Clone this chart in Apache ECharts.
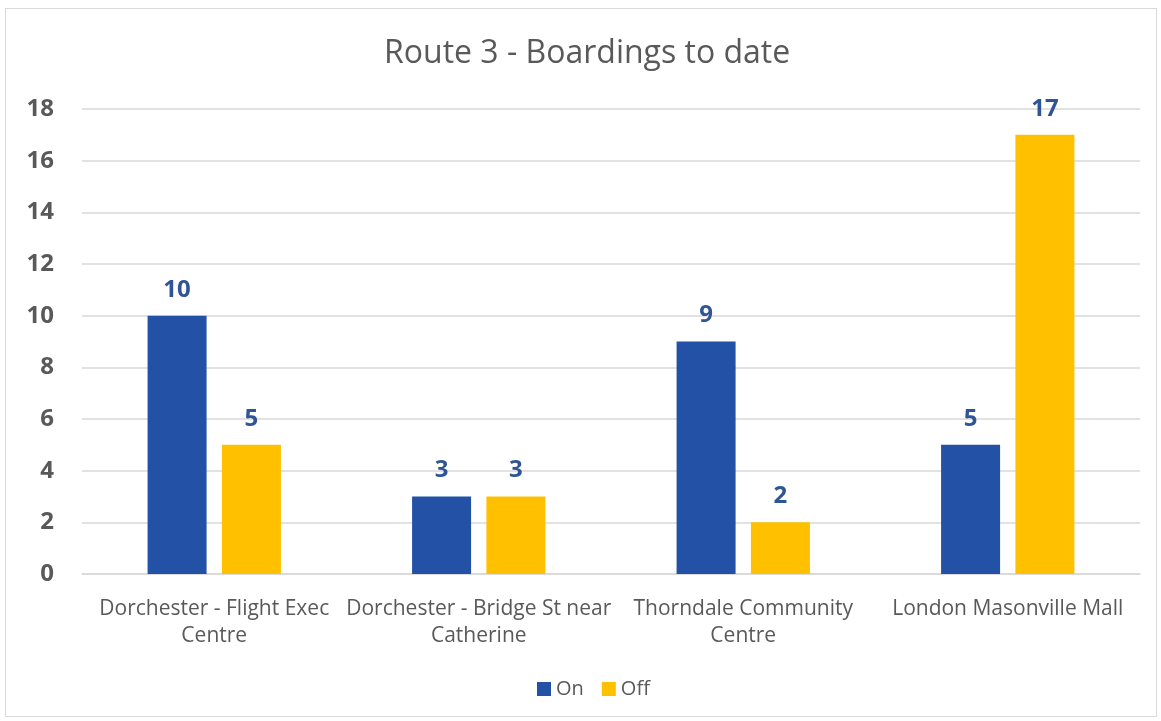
<!DOCTYPE html>
<html>
<head>
<meta charset="utf-8">
<script src="https://cdn.jsdelivr.net/npm/echarts@6/dist/echarts.min.js"></script>
<style>
  html, body { margin: 0; padding: 0; background: #fff; }
  #box { position: absolute; left: 5px; top: 8px; width: 1150px; height: 707px; border: 1px solid #d9d9d9; }
  #chart { width: 1161px; height: 721px; position: absolute; left: 0; top: 0; }
</style>
</head>
<body>
<div id="box"></div>
<div id="chart"></div>
<script>
// 站点名称
var stops = ['Dorchester - Flight Exec\nCentre', 'Dorchester - Bridge St near\nCatherine', 'Thorndale Community\nCentre', 'London Masonville Mall'];
// 上车 / 下车人数
var onValues = [10, 3, 9, 5];
var offValues = [5, 3, 2, 17];
var titleText = 'Route 3 - Boardings to date';

var myChart = echarts.init(document.getElementById('chart'));
var labelStyle = {
	show: true,
	position: 'top',
	distance: 14,
	color: '#2F5597',
	fontSize: 24,
	fontWeight: 'bold',
	fontFamily: 'Open Sans'
};
var option = {
	animation: false,
	textStyle: { fontFamily: 'Open Sans' },
	title: {
		text: titleText,
		left: 379,
		top: 33,
		textStyle: { fontSize: 32, fontWeight: 'normal', color: '#595959', fontFamily: 'Open Sans' }
	},
	legend: {
		bottom: 17,
		left: 532,
		itemWidth: 14,
		itemHeight: 14,
		itemGap: 18,
		icon: 'rect',
		textStyle: { fontSize: 20, color: '#595959' },
		data: ['On', 'Off']
	},
	grid: { left: 82, right: 21, top: 109, bottom: 147, containLabel: false },
	xAxis: {
		type: 'category',
		data: stops,
		axisLine: { lineStyle: { color: '#d9d9d9', width: 1.5 } },
		axisTick: { show: false },
		axisLabel: { fontSize: 21, color: '#595959', margin: 22, lineHeight: 27, interval: 0 }
	},
	yAxis: {
		type: 'value',
		min: 0,
		max: 18,
		interval: 2,
		axisLine: { show: false },
		axisTick: { show: false },
		splitLine: { lineStyle: { color: '#d9d9d9', width: 1.5 } },
		axisLabel: { fontSize: 24, fontWeight: 'bold', color: '#595959', margin: 28 }
	},
	series: [{
		name: 'On',
		type: 'bar',
		data: onValues,
		barWidth: 59,
		barGap: '26%',
		itemStyle: { color: '#2251A5' },
		label: labelStyle
	}, {
		name: 'Off',
		type: 'bar',
		data: offValues,
		barWidth: 59,
		itemStyle: { color: '#FFC000' },
		label: labelStyle
	}]
};
myChart.setOption(option);
</script>
</body>
</html>
